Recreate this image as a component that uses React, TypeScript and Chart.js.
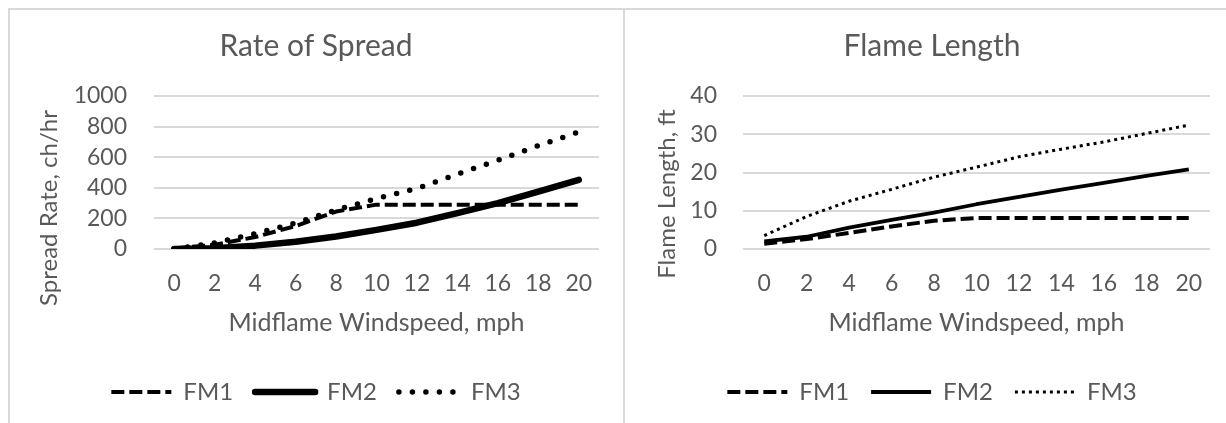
import React, { useEffect, useRef } from 'react';
import { Chart, registerables } from 'chart.js';

Chart.register(...registerables);

// ---- data ----
const windSpeeds = ['0', '2', '4', '6', '8', '10', '12', '14', '16', '18', '20'];

const spreadFM1 = [3, 28, 78, 150, 245, 290, 290, 290, 290, 290, 290];
const spreadFM2 = [0, 5, 22, 48, 82, 125, 172, 235, 300, 375, 452];
const spreadFM3 = [0, 40, 100, 170, 255, 330, 395, 490, 580, 675, 765];

const flameFM1 = [1.4, 2.6, 4.2, 5.9, 7.4, 8.1, 8.1, 8.1, 8.1, 8.1, 8.1];
const flameFM2 = [2.0, 3.2, 5.6, 7.6, 9.5, 11.7, 13.6, 15.5, 17.3, 19.1, 20.8];
const flameFM3 = [3.5, 8.5, 12.5, 15.6, 18.8, 21.4, 24.1, 26.1, 28.0, 30.2, 32.4];

const TEXT = '#595959';
const GRID = '#d9d9d9';
const FONT = 'Lato';

const yTitlePlugin = {
  id: 'yTitle',
  afterDraw(chart: any, _args: any, opts: any) {
    if (!opts || !opts.text) return;
    const ctx = chart.ctx;
    ctx.save();
    ctx.translate(opts.x, opts.y);
    ctx.rotate(-Math.PI / 2);
    ctx.font = `${opts.size}px ${FONT}`;
    ctx.fillStyle = TEXT;
    ctx.textAlign = 'center';
    ctx.textBaseline = 'middle';
    ctx.fillText(opts.text, 0, 0);
    ctx.restore();
  },
};

type Spec = {
  title: string;
  yTitle: string;
  yTitleX: number;
  yTitleY: number;
  yMax: number;
  yStep: number;
  yWidth: number;
  yPad: number;
  padLR: number;
  series: { label: string; data: number[]; width: number; dash: number[]; cap: string }[];
};

function makeConfig(s: Spec): any {
  return {
    type: 'line',
    data: {
      labels: windSpeeds,
      datasets: s.series.map((d) => ({
        label: d.label,
        data: d.data,
        borderColor: '#000',
        backgroundColor: '#000',
        borderWidth: d.width,
        borderDash: d.dash,
        borderCapStyle: d.cap,
        borderJoinStyle: 'round',
        pointRadius: 0,
        tension: 0,
        fill: false,
      })),
    },
    options: {
      responsive: false,
      animation: false,
      layout: { padding: { left: s.padLR, right: s.padLR, top: 0, bottom: 9 } },
      plugins: {
        title: {
          display: true,
          text: s.title,
          color: TEXT,
          font: { family: FONT, size: 30, weight: 'normal' },
          padding: { top: 18, bottom: 32 },
        },
        legend: {
          position: 'bottom',
          labels: {
            usePointStyle: true,
            pointStyle: 'line',
            pointStyleWidth: 60,
            color: TEXT,
            font: { family: FONT, size: 24 },
            padding: 22,
            generateLabels: (chart: any) =>
              chart.data.datasets.map((ds: any, i: number) => ({
                text: ds.label,
                fillStyle: '#000',
                strokeStyle: '#000',
                lineWidth: ds.borderWidth,
                lineDash: ds.borderDash,
                lineDashOffset: 0,
                lineCap: ds.borderCapStyle,
                lineJoin: 'miter',
                pointStyle: 'line',
                rotation: 0,
                hidden: false,
                fontColor: TEXT,
                datasetIndex: i,
              })),
          },
        },
        tooltip: { enabled: false },
        yTitle: { text: s.yTitle, x: s.yTitleX, y: s.yTitleY, size: 24 },
      },
      scales: {
        x: {
          offset: true,
          grid: { display: false, drawTicks: false },
          border: { display: false },
          ticks: {
            color: TEXT,
            font: { family: FONT, size: 23 },
            padding: 21,
            maxRotation: 0,
            autoSkip: false,
          },
          title: {
            display: true,
            text: 'Midflame Windspeed, mph',
            color: TEXT,
            font: { family: FONT, size: 25 },
            padding: { top: 0, bottom: 20 },
          },
          afterFit: (sc: any) => {
            sc.height = 109;
          },
        },
        y: {
          min: 0,
          max: s.yMax,
          ticks: {
            stepSize: s.yStep,
            color: TEXT,
            font: { family: FONT, size: 23 },
            padding: s.yPad,
            callback: (v: any) => String(v),
          },
          grid: { color: GRID, lineWidth: 2, drawTicks: false },
          border: { display: false },
          afterFit: (sc: any) => {
            sc.width = s.yWidth;
          },
        },
      },
    },
    plugins: [yTitlePlugin],
  };
}

function LineChart({ left, width, spec }: { left: number; width: number; spec: Spec }) {
  const ref = useRef<HTMLCanvasElement | null>(null);
  useEffect(() => {
    if (!ref.current) return;
    const chart = new Chart(ref.current, makeConfig(spec));
    return () => chart.destroy();
  }, []);
  return (
    <canvas
      ref={ref}
      width={width}
      height={413}
      style={{ position: 'absolute', left, top: 10, width, height: 413, display: 'block' }}
    />
  );
}

const leftSpec: Spec = {
  title: 'Rate of Spread',
  yTitle: 'Spread Rate, ch/hr',
  yTitleX: 39,
  yTitleY: 198,
  yMax: 1000,
  yStep: 200,
  yWidth: 121,
  yPad: 27,
  padLR: 23,
  series: [
    { label: 'FM1', data: spreadFM1, width: 4, dash: [13, 5], cap: 'butt' },
    { label: 'FM2', data: spreadFM2, width: 6.5, dash: [], cap: 'round' },
    { label: 'FM3', data: spreadFM3, width: 5.5, dash: [0, 13.5], cap: 'round' },
  ],
};

const rightSpec: Spec = {
  title: 'Flame Length',
  yTitle: 'Flame Length, ft',
  yTitleX: 41,
  yTitleY: 184,
  yMax: 40,
  yStep: 10,
  yWidth: 89,
  yPad: 26,
  padLR: 28,
  series: [
    { label: 'FM1', data: flameFM1, width: 4, dash: [13, 5], cap: 'butt' },
    { label: 'FM2', data: flameFM2, width: 3.8, dash: [], cap: 'butt' },
    { label: 'FM3', data: flameFM3, width: 3, dash: [3, 4], cap: 'butt' },
  ],
};

export default function App() {
  const line = (l: number, t: number, w: number, h: number) => (
    <div style={{ position: 'absolute', left: l, top: t, width: w, height: h, background: '#d9d9d9' }} />
  );
  return (
    <div
      style={{
        position: 'fixed',
        left: 0,
        top: 0,
        width: 1226,
        height: 423,
        overflow: 'hidden',
        background: '#fff',
      }}
    >
      <LineChart left={10} width={612} spec={leftSpec} />
      <LineChart left={626} width={612} spec={rightSpec} />
      {line(8, 8, 1218, 2)}
      {line(8, 8, 2, 415)}
      {line(623, 8, 2, 415)}
    </div>
  );
}
